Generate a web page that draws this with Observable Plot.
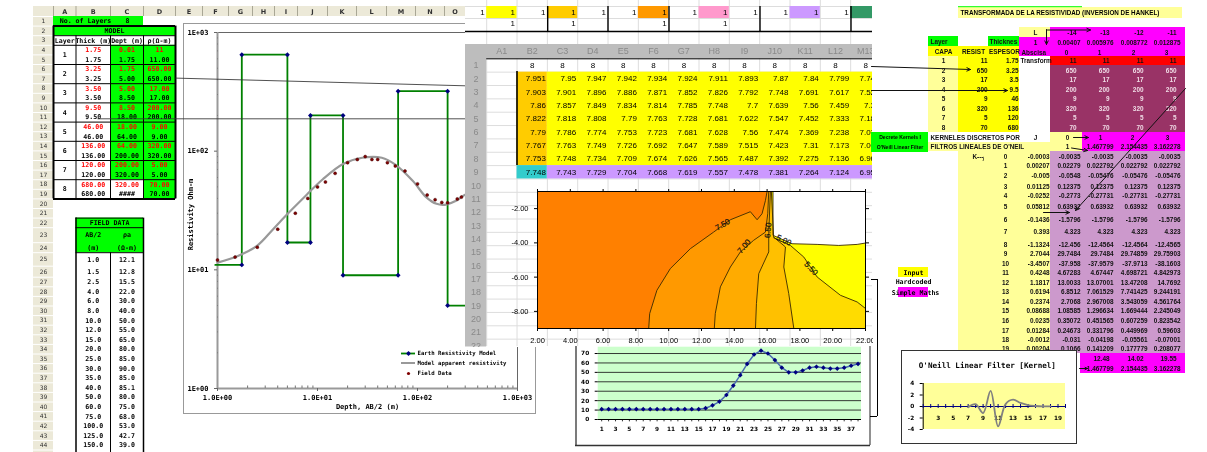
<!DOCTYPE html>
<html><head><meta charset="utf-8">
<script src="https://cdn.jsdelivr.net/npm/d3@7"></script>
<script src="https://cdn.jsdelivr.net/npm/@observablehq/plot@0.6"></script>
<style>
html,body{margin:0;padding:0;background:#fff;overflow:hidden}
#page{position:relative;width:1207px;height:452px;overflow:hidden;background:#fff}
#page svg{position:absolute;display:block;filter:blur(.25px)}
</style></head><body><div id="page"></div>
<script>
// ---------- DATA ----------
const layerNumbers=[1,2,3,4,5,6,7,8];
const layerThick=[1.75,3.25,3.5,9.5,46,136,120,680];
const layerTop=[0.01,1.75,5,8.5,18,64,200,320];
const layerBottom=[1.75,5,8.5,18,64,200,320,"####"];
const layerRes=[11,650,17,200,9,320,5,70];
const fieldAB=[1,1.5,2.5,4,6,8,10,12,15,20,25,30,35,40,50,60,75,100,125,150];
const fieldRho=[12.1,12.8,15.5,22,30,40,50,55,65,80,85,90,85,85.1,80,75,68,53,42.7,39];
const extraAB=[175,200,250,275];
const extraRho=[37,36.7,39.6,41];
const curveAB=[1,1.6,2.5,3.6,5,7.8,11.3,18,28,44,60,90,122,155,193,240,280,300];
const curveRho=[11.5,13.1,16,22,29.5,43,58,78,88,88,77,56,41,36,35.5,38,41.5,43];
const resistTicks=[1,10,100,1000];
const sheetColNames=["A1","B2","C3","D4","E5","F6","G7","H8","I9","J10","K11","L12","M13"];
const sheetRows=[
[7.951,7.95,7.947,7.942,7.934,7.924,7.911,7.893,7.87,7.84,7.799,7.744],
[7.903,7.901,7.896,7.886,7.871,7.852,7.826,7.792,7.748,7.691,7.617,7.522],
[7.86,7.857,7.849,7.834,7.814,7.785,7.748,7.7,7.639,7.56,7.459,7.33],
[7.822,7.818,7.808,7.79,7.763,7.728,7.681,7.622,7.547,7.452,7.333,7.186],
[7.79,7.786,7.774,7.753,7.723,7.681,7.628,7.56,7.474,7.369,7.238,7.078],
[7.767,7.763,7.749,7.726,7.692,7.647,7.589,7.515,7.423,7.31,7.173,7.006],
[7.753,7.748,7.734,7.709,7.674,7.626,7.565,7.487,7.392,7.275,7.136,6.966],
[7.748,7.743,7.729,7.704,7.668,7.619,7.557,7.478,7.381,7.264,7.124,6.952]];
const c75=[[8.78,-9],[8.84,-8.13],[9.28,-6.77],[10.1,-5.5],[11.32,-4.34],[12.74,-3.37],[13.76,-2.65],[14.98,-2.18],[15.39,-2.65],[15.69,-2.3],[15.9,-1.52],[16,-1]];
const c70=[[12.78,-9],[12.84,-8.13],[13.15,-6.57],[13.76,-5.41],[14.37,-4.53],[15.18,-3.85],[15.9,-3.37],[16.04,-2.3],[16.1,-1]];
const c65=[[15.29,-9],[15.35,-7.54],[15.49,-5.8],[16.1,-4.53],[16.1,-3.47],[16.2,-1]];
const c60=[[17.63,-9],[17.32,-6.96],[17.02,-5.41],[17.12,-4.24],[16.4,-3.66],[16.26,-1]];
const c55=[[16.4,-3.7],[17.42,-4.15],[18.24,-4.83],[19.05,-5.99],[20.47,-7.06],[21.49,-7.45],[22,-7.83]];
const c50=[[16.36,-1],[16.36,-3.56],[17.52,-4.05],[19.05,-4.09],[20.37,-4.15],[21.49,-4.09],[22,-4.01]];
const contourLabels=[
 {t:"7.50",x:13.29,y:-2.94,r:-30},{t:"7.00",x:14.6,y:-4.2,r:-50},{t:"6.50",x:16.06,y:-3.27,r:-85},
 {t:"5.00",x:17.02,y:-3.85,r:25},{t:"5.50",x:18.68,y:-5.5,r:45}];
const trendValues=[11,11,11,11,11,11,11,11,11,11,11,11,11,11,11,12,15,19,26,36,47,59,69,73,70,63,55,50,50,52,55,56,55,54,54,55,57,59];
const kernelJ=d3.range(0,20);
const kernelK=[-0.0003,0.00207,-0.005,0.01125,-0.0252,0.05812,-0.1436,0.393,-1.1324,2.7044,-3.4507,0.4248,1.1817,0.6194,0.2374,0.08688,0.0235,0.01284,-0.0012,0.00204];
const kernelA=["-0.0035","0.02279","-0.0548","0.12375","-0.2773","0.63932","-1.5796","4.323","-12.456","29.7484","-37.958","4.67283","13.0033","6.8512","2.7068","1.08585","0.35072","0.24673","-0.031","0.1066"];
const kernelB=["-0.0035","0.022792","-0.05476","0.12375","-0.27731","0.63932","-1.5796","4.323","-12.4564","29.7484","-37.9579","4.67447","13.07001","7.061529","2.967008","1.296634","0.451565","0.331796","-0.04198","0.141209"];
const kernelC=["-0.0035","0.022792","-0.05476","0.12375","-0.27731","0.63932","-1.5796","4.323","-12.4564","29.74859","-37.9713","4.698721","13.47208","7.741425","3.543059","1.669444","0.607259","0.449969","-0.05561","0.177779"];
const kernelD=["-0.0035","0.022792","-0.05476","0.12375","-0.27731","0.63932","-1.5796","4.323","-12.4565","29.75903","-38.1603","4.842973","14.7692","9.244191","4.561764","2.245049","0.823542","0.59603","-0.07001","0.208077"];
const lHeader=["L","-14","-13","-12","-11"];
const weights=["1","0.00407","0.005976","0.008772","0.012875"];
const abscissa=["Abscisa","0","1","2","3"];
const sumsRow=["12.48","14.02","19.55"];
const abscValues=["1.467799","2.154435","3.162278"];

// ---------- LAYOUT HELPERS ----------
const page=document.getElementById("page");
const place=(el,x,y,z)=>{el.style.left=x+"px";el.style.top=y+"px";el.style.zIndex=z;page.appendChild(el);return el;};
function sheet(x0,y0,x1,y1,z,marks,background="transparent"){
  const el=Plot.plot({width:x1-x0,height:y1-y0,margin:0,
    x:{domain:[x0,x1],range:[0,x1-x0],axis:null},
    y:{domain:[y0,y1],range:[0,y1-y0],axis:null},
    color:{type:"identity"},
    style:{background,overflow:"hidden"},marks});
  return place(el,x0,y0,z);
}
const txt=(rows,o={})=>Plot.text(rows,{x:"x",y:"y",text:"t",fill:d=>d.c||o.c||"#000",fontFamily:"Liberation Sans",fontSize:7,lineAnchor:"middle",...o});
const box=(rows)=>Plot.rect(rows,{x1:"x1",x2:"x2",y1:"y1",y2:"y2",fill:"f"});
const fmt2=v=>typeof v==="number"?v.toFixed(2):v;

// ---------- LEFT SHEET ----------
const rowH=[...Array(22).fill(9.6),15,10,13.5,11,...Array(18).fill(9.6)];
const rowEdge=[16];rowH.forEach(h=>rowEdge.push(rowEdge[rowEdge.length-1]+h));
const rowC=r=>(rowEdge[r-1]+rowEdge[r])/2;
const colEdge=[53,75.5,110,143,175,202,228,252,274,297,327,356,386,415,444,465];
const colNames="ABCDEFGHIJKLMNO".split("");
const mono={fontFamily:"DejaVu Sans Mono",fontWeight:"bold",fontSize:6.6};
const colC=i=>(colEdge[i]+colEdge[i+1])/2;
const tableTexts=[];
layerNumbers.forEach((n,i)=>{
  const r=4+2*i;
  tableTexts.push({x:colC(0),y:rowEdge[r],t:String(n)});
  tableTexts.push({x:colC(1),y:rowC(r),t:fmt2(layerThick[i]),c:"#f00"},{x:colC(1),y:rowC(r+1),t:fmt2(layerThick[i])});
  tableTexts.push({x:colC(2),y:rowC(r),t:fmt2(layerTop[i]),c:"#f00"},{x:colC(2),y:rowC(r+1),t:fmt2(layerBottom[i])});
  tableTexts.push({x:colC(3),y:rowC(r),t:i?fmt2(layerRes[i]):String(layerRes[i]),c:"#f00"},{x:colC(3),y:rowC(r+1),t:fmt2(layerRes[i])});
});
["Layer","Thick (m)","Dept (m)","ρ(Ω-m)"].forEach((t,i)=>tableTexts.push({x:colC(i),y:rowC(3),t}));
tableTexts.push({x:85,y:rowC(1),t:"No. of Layers"},{x:127,y:rowC(1),t:"8"},{x:114,y:rowC(2),t:"MODEL"});
tableTexts.push({x:109,y:rowC(22),t:"FIELD DATA"},{x:colC(1),y:rowC(23),t:"AB/2"},{x:colC(2),y:rowC(23),t:"ρa"},{x:colC(1),y:rowC(24),t:"(m)"},{x:colC(2),y:rowC(24),t:"(Ω-m)"});
fieldAB.forEach((v,i)=>{tableTexts.push({x:colC(1),y:rowC(25+i),t:v.toFixed(1)},{x:colC(2),y:rowC(25+i),t:fieldRho[i].toFixed(1)});});
const layerRules=d3.range(4,20,2).map(r=>rowEdge[r-1]);
sheet(33,0,465,452,1,[
  box([{x1:53,x2:143,y1:rowEdge[0],y2:rowEdge[1],f:"#00ff00"},{x1:53,x2:175,y1:rowEdge[1],y2:rowEdge[2],f:"#00ff00"},
       {x1:110,x2:175,y1:rowEdge[3],y2:rowEdge[19],f:"#00ff00"},{x1:110,x2:143,y1:rowEdge[17],y2:rowEdge[19],f:"#fff"},
       {x1:75.5,x2:143,y1:rowEdge[21],y2:rowEdge[24],f:"#00ff00"},
       {x1:33,x2:53,y1:6,y2:452,f:"#ece9d8"},{x1:33,x2:465,y1:6,y2:16,f:"#ece9d8"}]),
  Plot.ruleY(rowEdge,{x1:33,x2:53,stroke:"#fff",strokeWidth:1}),
  Plot.ruleX(colEdge,{y1:6,y2:16,stroke:"#a9a795",strokeWidth:1}),
  Plot.ruleY(layerRules,{x1:53,x2:175,stroke:"#000",strokeWidth:1}),
  Plot.ruleX([53,75.5,110,143,175],{y1:rowEdge[2],y2:rowEdge[19],stroke:"#000",strokeWidth:1}),
  Plot.ruleY([rowEdge[1],rowEdge[19]],{x1:53,x2:175,stroke:"#000",strokeWidth:2}),
  Plot.ruleY([rowEdge[2]],{x1:53,x2:175,stroke:"#000",strokeWidth:1}),
  Plot.ruleX([53,175],{y1:rowEdge[1],y2:rowEdge[19],stroke:"#000",strokeWidth:2}),
  Plot.ruleY([rowEdge[21],rowEdge[22],rowEdge[24]],{x1:75.5,x2:143,stroke:"#000",strokeWidth:1}),
  Plot.ruleX([75.5,143],{y1:rowEdge[21],y2:452,stroke:"#000",strokeWidth:1.5}),
  Plot.ruleX([110],{y1:rowEdge[24],y2:452,stroke:"#000",strokeWidth:1}),
  txt(rowH.map((h,i)=>({x:43,y:rowC(i+1),t:String(i+1)})),{fontSize:6,c:"#333",fontFamily:"DejaVu Sans"}),
  txt(colNames.map((t,i)=>({x:colC(i),y:11,t})),{fontSize:6.5,c:"#333",fontWeight:"bold",fontFamily:"DejaVu Sans"}),
  txt(tableTexts,mono)
]);

// ---------- RESISTIVITY CHART ----------
const minor10=[1,10,100].flatMap(d=>d3.range(2,10).map(k=>k*d));
const stepPts=layerRes.flatMap((r,i)=>[{x:i?layerTop[i]:0.95,y:r},{x:i<layerRes.length-1?layerBottom[i]:1000,y:r}]);
const chartLabel={fontFamily:"DejaVu Sans Mono",fontWeight:"bold",fontSize:7};
const chart=Plot.plot({width:353,height:391,marginLeft:34,marginRight:19,marginTop:9,marginBottom:26,
  x:{type:"log",domain:[1,1000],axis:null},y:{type:"log",domain:[1,1000],axis:null},
  style:{background:"#fff",outline:"1.5px solid #999",outlineOffset:"-1.5px"},
  marks:[
    Plot.ruleY([1000],{stroke:"#666",strokeWidth:1}),Plot.ruleX([1000],{stroke:"#666",strokeWidth:1}),
    Plot.ruleX([1],{stroke:"#999",strokeWidth:2}),Plot.ruleY([1],{stroke:"#999",strokeWidth:2}),
    Plot.ruleY(minor10,{x1:1,x2:1.02,stroke:"#777",strokeWidth:1}),
    Plot.ruleX(minor10,{y1:1,y2:1.05,stroke:"#777",strokeWidth:1}),
    Plot.axisY({ticks:resistTicks,tickFormat:d=>"1E+0"+Math.round(Math.log10(d)),tickSize:3,stroke:"#666",...chartLabel,label:null}),
    Plot.axisX({ticks:[1,10,100,1000],tickFormat:d=>"1.0E+0"+Math.round(Math.log10(d)),tickSize:3,stroke:"#666",...chartLabel,label:null,tickPadding:4}),
    Plot.line(stepPts,{x:"x",y:"y",stroke:"#008000",strokeWidth:1.8}),
    Plot.dot(stepPts.slice(1),{x:"x",y:"y",symbol:"diamond2",r:2.2,fill:"#000080",stroke:null}),
    Plot.line(curveAB.map((x,i)=>({x,y:curveRho[i]})),{x:"x",y:"y",stroke:"#999",strokeWidth:2.2,curve:"catmull-rom"}),
    Plot.dot([...fieldAB,...extraAB].map((x,i)=>({x,y:[...fieldRho,...extraRho][i]})),{x:"x",y:"y",r:1.5,fill:"#800000",stroke:"#400",strokeWidth:.5}),
    Plot.text(["Resistivity Ohm-m"],{frameAnchor:"left",textAnchor:"middle",rotate:-90,dx:-27,dy:4,...chartLabel}),
    Plot.text(["Depth, AB/2 (m)"],{frameAnchor:"bottom",dy:20,...chartLabel})
  ]});
place(chart,183,23,2);
sheet(183,23,536,414,3,[
  Plot.ruleY([353],{x1:401,x2:415,stroke:"#008000",strokeWidth:1.8}),
  Plot.dot([{x:408,y:353}],{x:"x",y:"y",symbol:"diamond2",r:2.2,fill:"#000080"}),
  Plot.ruleY([362.5],{x1:401,x2:415,stroke:"#999",strokeWidth:2}),
  Plot.dot([{x:408,y:373}],{x:"x",y:"y",r:1.6,fill:"#800000"}),
  txt([{x:417,y:353,t:"Earth Resistivity Model"},{x:417,y:362.5,t:"Model apparent resistivity"},{x:417,y:373,t:"Field Data"}],{textAnchor:"start",...mono,fontSize:5.7})
]);
// long leader lines crossing the chart
sheet(90,60,465,130,3,[
  Plot.link([{x1:175,y1:77.6,x2:465,y2:85.3},{x1:97,y1:118.3,x2:465,y2:118.3}],{x1:"x1",y1:"y1",x2:"x2",y2:"y2",stroke:"#333",strokeWidth:1,strokeOpacity:.85})
]);

// ---------- MIDDLE SHEET ----------
const cw=30.33, cx0=485.7;
const cEdge=d3.range(0,15).map(i=>cx0+i*cw);
const rh=13.35, ry0=58.3;
const rEdge=d3.range(0,24).map(i=>ry0+i*rh);
const rCenter=i=>ry0+(i-.5)*rh;
const topFills=[{i:0,f:"#ffff00"},{i:2,f:"#ffcc00"},{i:5,f:"#ff9900"},{i:7,f:"#ff99cc"},{i:10,f:"#cc99ff"},{i:12,f:"#339966"}];
const colRight=i=>cEdge[i+1]-1.5;
const mid={fontFamily:"Liberation Sans",fontSize:8};
const cellTexts=sheetRows.flatMap((row,r)=>row.map((v,c)=>({x:colRight(c+1),y:rCenter(r+2),t:String(v)})));
sheet(464.5,0,871.5,346.5,4,[
  Plot.ruleX(cEdge,{y1:0,y2:346,stroke:"#ddd",strokeWidth:1}),
  Plot.ruleY([...rEdge,6,18,31,44],{x1:464.5,x2:873,stroke:"#ddd",strokeWidth:1}),
  box(topFills.map(d=>({x1:cEdge[d.i],x2:cEdge[d.i]+cw,y1:6,y2:18,f:d.f}))),
  box([{x1:464.5,x2:873,y1:44,y2:58,f:"#bdbdbd"},{x1:464.5,x2:485.7,y1:44,y2:346.5,f:"#bdbdbd"},
       {x1:cEdge[1],x2:cEdge[2],y1:rEdge[1],y2:rEdge[8],f:"#ffcc00"},
       {x1:cEdge[2],x2:873,y1:rEdge[1],y2:rEdge[8],f:"#ffff00"},
       {x1:cEdge[1],x2:cEdge[2],y1:rEdge[8],y2:rEdge[9],f:"#33cccc"},
       {x1:cEdge[2],x2:873,y1:rEdge[8],y2:rEdge[9],f:"#cc99ff"}]),
  Plot.ruleX([546.7,607,668,759,850],{y1:6,y2:31,stroke:"#000",strokeWidth:1.4}),
  Plot.ruleY([31],{x1:464.5,x2:873,stroke:"#000",strokeWidth:1.6}),
  Plot.ruleX([516],{y1:71,y2:165,stroke:"#000",strokeWidth:1.6}),
  Plot.ruleY([58.3],{x1:485.7,x2:873,stroke:"#000",strokeWidth:1}),
  txt(d3.range(0,13).map(i=>({x:cEdge[i]-2,y:12,t:"1"})),{textAnchor:"end",...mid}),
  txt([1,3,6,8].map(i=>({x:cEdge[i]-2,y:23,t:"1"})),{textAnchor:"end",...mid}),
  txt(sheetColNames.map((t,i)=>({x:cEdge[i]+cw/2,y:51,t,c:"#8a8a8a"})),{...mid,fontSize:9}),
  txt(d3.range(1,23).map(i=>({x:475,y:rCenter(i),t:String(i),c:"#8a8a8a"})),{...mid,fontSize:9}),
  txt(d3.range(1,13).map(i=>({x:cEdge[i]+cw/2,y:65,t:"8"})),mid),
  txt(cellTexts,{textAnchor:"end",...mid})
],"#fff");

// ---------- CONTOUR ----------
const pt=a=>a.map(([x,y])=>({x,y}));
const poly=(a,f)=>Plot.line(pt(a),{x:"x",y:"y",fill:f,stroke:"none"});
const iso=a=>Plot.line(pt(a),{x:"x",y:"y",stroke:"#3a2a00",strokeWidth:.9});
const ctick={fontFamily:"Liberation Sans",fontSize:7.5};
const contour=Plot.plot({width:363,height:165,marginLeft:27,marginRight:8,marginTop:11,marginBottom:17,
  x:{domain:[2,22],axis:null},y:{domain:[-9,-1],axis:null},
  style:{background:"transparent",overflow:"hidden"},
  marks:[
    Plot.rect([0],{x1:2,x2:22,y1:-9,y2:-1,fill:"#ff8000"}),
    poly([...c75,[22,-1],[22,-9]],"#ff9900"),
    poly([...c70,[22,-1],[22,-9]],"#ffab00"),
    poly([...c65,[22,-1],[22,-9]],"#ffc000"),
    poly([...c60,[22,-1],[22,-9]],"#ffdc00"),
    poly([...c55,[22,-1],[16.3,-1]],"#ffff00"),
    poly([...c50,[22,-1]],"#ffffff"),
    iso(c75),iso(c70),iso(c65),iso(c60),iso(c55),iso(c50),
    Plot.text(contourLabels,{x:"x",y:"y",text:"t",rotate:"r",fontFamily:"Liberation Sans",fontSize:8,fill:"#111",stroke:"#111",strokeWidth:.2}),
    Plot.frame({stroke:"#000"}),
    Plot.axisX({anchor:"bottom",ticks:d3.range(2,23,2),tickSize:3,tickFormat:d=>d.toFixed(2),label:null,...ctick,stroke:"#000"}),
    Plot.axisY({anchor:"left",ticks:[-2,-4,-6,-8],tickSize:3,tickFormat:d=>d.toFixed(2),label:null,...ctick,stroke:"#000"}),
    Plot.axisX({anchor:"top",ticks:d3.range(2,23,2),tickSize:3,tickFormat:()=>"",label:null,stroke:"#000"}),
    Plot.axisY({anchor:"right",ticks:[-2,-4,-6,-8],tickSize:3,tickFormat:()=>"",label:null,stroke:"#000"})
  ]});
place(contour,510,180,5);

// ---------- TREND CHART ----------
const trend=trendValues.map((v,i)=>({i:i+1,v}));
const trendAxis={fontFamily:"DejaVu Sans",fontWeight:"bold",fontSize:5.8};
const trendPlot=Plot.plot({width:294,height:99,marginLeft:22.7,marginRight:8,marginTop:.7,marginBottom:26,
  x:{domain:[.5,38.5],axis:null},y:{domain:[0,76.7],axis:null},
  style:{background:"#fff"},
  marks:[
    Plot.rect([0],{x1:.5,x2:38.5,y1:0,y2:76.7,fill:"#ccffcc"}),
    Plot.ruleY(d3.range(10,80,10),{stroke:"#222",strokeWidth:.9}),
    Plot.ruleY([0],{stroke:"#000"}),
    Plot.ruleX(d3.range(1,39),{y1:0,y2:-2.5,stroke:"#000",strokeWidth:.8}),
    Plot.axisY({ticks:d3.range(0,80,10),tickSize:3,label:null,...trendAxis}),
    Plot.axisX({ticks:d3.range(1,39,2),tickSize:0,label:null,tickPadding:7,...trendAxis}),
    Plot.line(trend,{x:"i",y:"v",stroke:"#4a6ab0",strokeWidth:1.5}),
    Plot.dot(trend,{x:"i",y:"v",symbol:"diamond2",r:2.1,fill:"#000080",stroke:null})
  ]});
place(trendPlot,575,346,6);
sheet(570,270,882,450,7,[
  Plot.ruleX([575.5],{y1:346,y2:445,stroke:"#333",strokeWidth:1.3}),
  Plot.ruleX([869.5],{y1:346,y2:445,stroke:"#555",strokeWidth:1.3}),
  Plot.ruleY([445],{x1:575,x2:870,stroke:"#333",strokeWidth:1.3}),
  Plot.ruleX([877],{y1:279,y2:416,stroke:"#000",strokeWidth:1}),
  Plot.ruleY([279],{x1:871,x2:877,stroke:"#000",strokeWidth:1}),
  Plot.ruleY([416],{x1:870,x2:877,stroke:"#000",strokeWidth:1})
]);

// ---------- RIGHT SHEET ----------
const C4=[1080,1113,1147,1180];
const yRes=[60.5,70,79.5,89,98.5,108,117.5,127];
const yK=[156,165.5,175.5,186,195,206,219,231,244,253,263,272,282,291,301,310.6,320,330,339,348];
const rb={fontFamily:"Liberation Sans",fontWeight:"bold",fontSize:6.4};
const PY="#ffff99",YY="#ffff00",MG="#ff00ff",GR="#00ff00",MR="#993366",PU="#cc99cc";
const rightTexts=[];
layerRes.forEach((v,i)=>{
  rightTexts.push({x:987,y:yRes[i],t:String(v),a:"end"},{x:1018,y:yRes[i],t:String(layerThick[i]),a:"end"},{x:943,y:yRes[i],t:String(i+1),a:"middle"});
  C4.forEach(x=>rightTexts.push({x:x-4,y:yRes[i],t:String(v),a:"end",c:i?"#f0dce6":"#111"}));
});
lHeader.slice(1).forEach((t,i)=>rightTexts.push({x:C4[i]-4,y:32,t,a:"end"}));
weights.slice(1).forEach((t,i)=>rightTexts.push({x:C4[i],y:42,t,a:"end"}));
abscissa.slice(1).forEach((t,i)=>rightTexts.push({x:C4[i]-14,y:52,t,a:"middle"}));
rightTexts.push({x:1035,y:32,t:"L",a:"middle"},{x:1035,y:42,t:"1",a:"middle"},{x:1021,y:52,t:"Abscisa",a:"start"},{x:1020,y:60.5,t:"Transform",a:"start"});
rightTexts.push({x:930,y:41,t:"Layer",a:"start"},{x:989,y:41,t:"Thicknes",a:"start"},{x:943,y:51,t:"CAPA",a:"middle"},{x:973,y:51,t:"RESIST",a:"middle"},{x:1004,y:51,t:"ESPESOR",a:"middle"});
rightTexts.push({x:930,y:137,t:"KERNELES DISCRETOS POR",a:"start"},{x:930,y:146.5,t:"FILTROS LINEALES DE O'NEIL",a:"start"});
rightTexts.push({x:1035,y:137,t:"J",a:"middle"},{x:1067,y:137,t:"0",a:"middle"},{x:1067,y:146.5,t:"1",a:"middle"},{x:978,y:156,t:"K---ⱼ",a:"middle"});
rightTexts.push({x:1100,y:137,t:"1",a:"middle"},{x:1132,y:137,t:"2",a:"middle"},{x:1167,y:137,t:"3",a:"middle"});
abscValues.forEach((t,i)=>rightTexts.push({x:C4[i+1],y:146.5,t,a:"end"},{x:C4[i+1],y:368,t,a:"end"}));
sumsRow.forEach((t,i)=>rightTexts.push({x:C4[i+1]-4,y:358,t,a:"end"}));
kernelJ.forEach((j,i)=>{
  rightTexts.push({x:1005,y:yK[i],t:String(j),a:"middle"},{x:1049,y:yK[i],t:String(kernelK[i]),a:"end"});
  [kernelA,kernelB,kernelC,kernelD].forEach((col,c)=>rightTexts.push({x:C4[c],y:yK[i],t:col[i],a:"end"}));
});
const rightMark=a=>Plot.text(rightTexts.filter(d=>d.a===a),{x:"x",y:"y",text:"t",textAnchor:a,fill:d=>d.c||"#111",lineAnchor:"middle",...rb});
sheet(871,0,1207,452,8,[
  box([{x1:958,x2:1182,y1:7,y2:18,f:PY},{x1:1019,x2:1050,y1:27,y2:37,f:PY},
    {x1:1050,x2:1185,y1:27,y2:37,f:MG},{x1:1019,x2:1185,y1:37,y2:56,f:MG},
    {x1:928,x2:958,y1:36,y2:46,f:GR},{x1:988,x2:1019,y1:36,y2:46,f:GR},
    {x1:928,x2:958,y1:46,y2:56,f:YY},{x1:928,x2:958,y1:56,y2:132,f:PY},
    {x1:958,x2:1019,y1:46,y2:132,f:YY},
    {x1:1050,x2:1185,y1:56,y2:65,f:"#ff0000"},{x1:1050,x2:1185,y1:65,y2:132,f:MR},
    {x1:1082,x2:1185,y1:132,y2:151,f:MG},{x1:1050,x2:1082,y1:132,y2:151,f:PY},
    {x1:928,x2:1050,y1:142,y2:151,f:PY},
    {x1:871,x2:928,y1:132,y2:152,f:GR},
    {x1:958,x2:1050,y1:151,y2:350,f:PY},{x1:1050,x2:1185,y1:151,y2:353,f:PU},
    {x1:1080,x2:1185,y1:353,y2:373,f:MG},{x1:898,x2:928,y1:267,y2:277,f:YY},{x1:898,x2:928,y1:287,y2:297,f:MG}]),
  Plot.ruleY([6.2],{x1:958,x2:1082,stroke:GR,strokeWidth:1}),
  txt([{x:960,y:12.5,t:"TRANSFORMADA DE LA RESISTIVIDAD (INVERSION DE HANKEL)"}],{textAnchor:"start",...rb,fontSize:6.3}),
  txt([{x:899.5,y:137,t:"Decrete Kernels I"},{x:899.5,y:147,t:"O'Neill Linear Filter"}],{...rb,fontSize:5.1,textAnchor:"middle"}),
  txt([{x:913,y:272,t:"Input"},{x:913,y:281.7,t:"Hardcoded"},{x:915,y:292,t:"Simple Maths"}],mono),
  rightMark("start"),rightMark("middle"),rightMark("end")
]);

// ---------- KERNEL CHART ----------
const kernel=kernelK.map((v,i)=>({k:i+1,v}));
const kernelAxis={fontFamily:"DejaVu Sans",fontWeight:"bold",fontSize:5.8};
const kernelPlot=Plot.plot({width:176,height:94,marginLeft:21.7,marginRight:12,marginTop:33,marginBottom:15,
  x:{domain:[1,20],axis:null},y:{domain:[-4,4],axis:null},
  style:{background:"#fff",outline:"1.5px solid #333",outlineOffset:"-1.5px"},
  marks:[
    Plot.rect([0],{x1:1,x2:20,y1:-4,y2:4,fill:"#ffff99"}),
    Plot.ruleX([1],{stroke:"#000"}),
    Plot.axisY({ticks:[-4,-2,0,2,4],tickSize:3,label:null,tickFormat:d=>String(d),stroke:"#000",...kernelAxis}),
    Plot.ruleY([0],{stroke:"#000080",strokeWidth:1.2}),
    Plot.ruleX(d3.range(1,21),{y1:-.35,y2:.35,stroke:"#000080",strokeWidth:1}),
    Plot.text(d3.range(3,21,2),{x:d=>d,y:-2,text:d=>String(d),...kernelAxis}),
    Plot.line(kernel.slice(6,18),{x:"k",y:"v",stroke:"#808080",strokeWidth:1.8,curve:"catmull-rom"}),
    Plot.text(["O'Neill Linear Filter [Kernel]"],{frameAnchor:"top",dy:-21,dx:-7,fontFamily:"DejaVu Sans Mono",fontWeight:"bold",fontSize:7.6})
  ]});
place(kernelPlot,901,350,9);

// ---------- ARROWS ----------
const arrows=[
 {x1:871,y1:66,x2:970,y2:69},{x1:871,y1:90,x2:1007,y2:90},
 {x1:1047,y1:29.5,x2:1090,y2:29.5},{x1:1046,y1:29,x2:1046,y2:44},
 {x1:1185,y1:88,x2:1075,y2:210},{x1:1043,y1:212,x2:1069,y2:212},
 {x1:1073,y1:137,x2:1088,y2:137},{x1:1071,y1:147.5,x2:1087,y2:150},
 {x1:1079,y1:368,x2:1087,y2:368}];
sheet(860,0,1207,452,10,[
  Plot.arrow(arrows,{x1:"x1",y1:"y1",x2:"x2",y2:"y2",stroke:"#111",strokeWidth:1,headLength:6,headAngle:50,bend:0,inset:0})
]);
</script></body></html>
